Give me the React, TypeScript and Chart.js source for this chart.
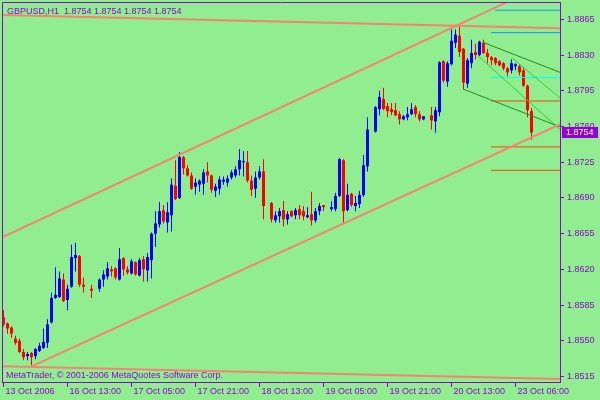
import React, { useEffect, useRef } from 'react';
import { Chart, registerables } from 'chart.js';

Chart.register(...registerables);

// ---------- text ----------
const symbolTitle = 'GBPUSD,H1  1.8754 1.8754 1.8754 1.8754';
const copyrightText = 'MetaTrader, \u00A9 2001-2006 MetaQuotes Software Corp.';

// ---------- axis ticks ----------
const xTickBars = [0, 16, 32, 48, 64, 80, 96, 112, 128];
const xTickLabels = [
  '13 Oct 2006', '16 Oct 13:00', '17 Oct 05:00', '17 Oct 21:00', '18 Oct 13:00',
  '19 Oct 05:00', '19 Oct 21:00', '20 Oct 13:00', '23 Oct 06:00',
];
const yTicks = [1.8515, 1.855, 1.8585, 1.862, 1.8655, 1.869, 1.8725, 1.876, 1.8795, 1.883, 1.8865];

// ---------- H1 candles (null = doji drawn invisibly) ----------
const opens = [
  1.8573, 1.8567, 1.8563, 1.8552, 1.855, 1.8539, 1.8535, 1.8538, 1.8535, 1.854,
  1.8543, 1.8548, 1.8568, 1.8592, 1.8593, 1.861, 1.859, 1.8603, 1.8631, 1.8633,
  1.8605, null, 1.8601, null, 1.8601, 1.861, 1.8613, 1.862, 1.8621, 1.861,
  1.8631, 1.862, 1.8616, 1.8627, 1.8614, 1.863, 1.8619, 1.8629, 1.8655, 1.8664,
  1.8678, 1.8666, 1.8673, 1.8702, 1.869, 1.873, 1.8719, 1.8712, 1.8701, 1.8703,
  1.8704, 1.8716, 1.8712, 1.8697, 1.8699, 1.8706, 1.8705, 1.871, 1.8712, 1.8718,
  1.8725, 1.8725, 1.8707, 1.8699, 1.871, 1.8716, null, 1.8685, 1.8668, 1.8672,
  1.8678, 1.8669, 1.8677, 1.8673, 1.8679, 1.8677, 1.8671, 1.8674, 1.8668, 1.8677,
  1.8683, null, 1.8679, 1.8679, 1.8692, 1.8727, 1.8678, 1.8694, 1.8682, 1.8684,
  1.8693, 1.8721, null, 1.8755, 1.8777, 1.8787, 1.878, 1.8777, 1.8776, 1.8772,
  1.8767, 1.8769, 1.8772, 1.8779, 1.8772, 1.8767, null, 1.8771, 1.8765, 1.8774,
  1.8824, 1.8804, 1.8821, 1.8842, 1.8849, 1.8836, 1.8802, 1.8822, 1.8833, 1.883,
  1.8842, 1.8832, 1.8828, 1.8827, 1.8824, 1.8822, 1.8817, 1.8815, 1.8819, 1.8819,
  1.8815, 1.88, 1.8775,
];
const highs = [
  1.858, 1.8568, 1.8564, 1.8555, 1.8552, 1.8542, 1.8539, 1.8539, 1.8543, 1.8548,
  1.8562, 1.8571, 1.8597, 1.8622, 1.8618, 1.8616, 1.8605, 1.8644, 1.8646, 1.8634,
  1.8612, null, 1.8605, null, 1.8611, 1.8619, 1.8627, 1.8623, 1.8622, 1.8641,
  1.8632, 1.8623, 1.863, 1.8628, 1.8631, 1.8633, 1.8636, 1.8656, 1.8677, 1.8686,
  1.8683, 1.8686, 1.8709, 1.8727, 1.8735, 1.8731, 1.8722, 1.8715, 1.8709, 1.8708,
  1.8718, 1.8725, 1.8713, 1.8704, 1.8711, 1.8711, 1.8712, 1.8717, 1.8721, 1.8738,
  1.8736, 1.8736, 1.8712, 1.8716, 1.8721, 1.8728, null, 1.8686, 1.8677, 1.868,
  1.8687, 1.8677, 1.8678, 1.868, 1.8683, 1.8682, 1.8681, 1.8696, 1.868, 1.8685,
  1.8683, null, 1.8687, 1.8695, 1.8729, 1.8728, 1.8704, 1.8695, 1.8692, 1.8697,
  1.8732, 1.8769, null, 1.878, 1.8795, 1.8798, 1.8783, 1.8783, 1.8783, 1.8775,
  1.8771, 1.8779, 1.8783, 1.8781, 1.8775, 1.877, null, 1.8779, 1.8779, 1.8824,
  1.8825, 1.8824, 1.8855, 1.8855, 1.8859, 1.8837, 1.8827, 1.8845, 1.8841, 1.8844,
  1.8845, 1.8836, 1.8829, 1.8828, 1.8825, 1.8823, 1.8818, 1.8826, 1.8822, 1.8821,
  1.8817, 1.8801, 1.8778,
];
const lows = [
  1.8564, 1.8557, 1.8553, 1.8546, 1.8538, 1.8531, 1.8531, 1.8526, 1.8532, 1.8539,
  1.8542, 1.8543, 1.8567, 1.8591, 1.8592, 1.8588, 1.858, 1.8602, 1.8618, 1.8603,
  1.8597, null, 1.8592, null, 1.8598, 1.8603, 1.861, 1.8613, 1.861, 1.8609,
  1.8614, 1.8615, 1.8615, 1.8614, 1.8613, 1.8608, 1.8608, 1.8611, 1.8642, 1.8661,
  1.8665, 1.8656, 1.8657, 1.8688, 1.8689, 1.8713, 1.8711, 1.8698, 1.8693, 1.8696,
  1.8693, 1.8705, 1.8695, 1.8691, 1.8693, 1.8703, 1.8701, 1.8708, 1.871, 1.8712,
  1.8711, 1.8705, 1.8692, 1.869, 1.8708, 1.8669, null, 1.8666, 1.8666, 1.8666,
  1.8662, 1.8664, 1.8671, 1.8669, 1.8669, 1.8668, 1.867, 1.8663, 1.8666, 1.8673,
  1.8677, null, 1.8677, 1.8677, 1.8691, 1.8666, 1.8677, 1.8681, 1.8677, 1.868,
  1.8691, 1.8716, null, 1.8754, 1.8771, 1.8776, 1.8769, 1.8771, 1.877, 1.8762,
  1.8766, 1.8766, 1.8771, 1.8769, 1.8765, 1.8766, null, 1.8757, 1.8754, 1.877,
  1.8803, 1.8799, 1.882, 1.8837, 1.8828, 1.8796, 1.8798, 1.8817, 1.8826, 1.8829,
  1.8831, 1.8822, 1.882, 1.882, 1.8819, 1.8815, 1.8809, 1.8812, 1.8815, 1.881,
  1.8799, 1.8769, 1.8747,
];
const closes = [
  1.8566, 1.8562, 1.8557, 1.8548, 1.8539, 1.8534, 1.8537, 1.8534, 1.8542, 1.8545,
  1.8549, 1.8566, 1.8592, 1.8595, 1.8611, 1.8589, 1.8601, 1.8632, 1.8634, 1.8605,
  1.8603, null, 1.8599, null, 1.861, 1.8615, 1.8621, 1.8618, 1.8612, 1.863,
  1.862, 1.8617, 1.8628, 1.8615, 1.8629, 1.862, 1.8632, 1.8655, 1.8665, 1.8677,
  1.8667, 1.8676, 1.8703, 1.8689, 1.873, 1.8719, 1.8712, 1.8699, 1.8705, 1.8707,
  1.8715, 1.8712, 1.8698, 1.8701, 1.8708, 1.8708, 1.8709, 1.8715, 1.8718, 1.8727,
  1.8726, 1.8707, 1.8698, 1.871, 1.8716, 1.8682, null, 1.8669, 1.8673, 1.8677,
  1.8669, 1.8674, 1.8672, 1.8678, 1.8673, 1.8672, 1.8673, 1.8668, 1.8677, 1.8682,
  1.8681, null, 1.8681, 1.8692, 1.8728, 1.8677, 1.8693, 1.8683, 1.8685, 1.8693,
  1.8722, 1.8757, null, 1.8779, 1.8789, 1.8777, 1.8775, 1.8774, 1.8771, 1.8767,
  1.877, 1.8772, 1.8777, 1.8772, 1.8767, 1.877, null, 1.8766, 1.8776, 1.8823,
  1.8805, 1.8822, 1.8844, 1.885, 1.8833, 1.8803, 1.8825, 1.8832, 1.883, 1.8843,
  1.8832, 1.8828, 1.8825, 1.8822, 1.882, 1.8817, 1.8813, 1.8822, 1.8821, 1.8813,
  1.88, 1.8776, 1.8754,
];

// ---------- drawn objects: endpoints as (bar index, price) ----------
const upperChannel = [{ x: -1, y: 1.86502 }, { x: 140, y: 1.89077 }];
const lowerChannel = [{ x: 7, y: 1.8525 }, { x: 140, y: 1.87637 }];
const topLine = [{ x: -1, y: 1.88693 }, { x: 140, y: 1.88563 }];
const bottomLine = [{ x: -1, y: 1.8525 }, { x: 140, y: 1.85125 }];
const regUpper = [{ x: 119.85, y: 1.88425 }, { x: 140, y: 1.88117 }];
const regLower = [{ x: 115, y: 1.87965 }, { x: 140, y: 1.87583 }];
const fanA = [{ x: 118.7, y: 1.8829 }, { x: 140, y: 1.87538 }];
const fanB = [{ x: 127.2, y: 1.8827 }, { x: 140, y: 1.87851 }];
const levelPrices = [1.8874, 1.8852, 1.8808, 1.8785, 1.874, 1.8717];
const levelStarts = [122.9, 121.9, 121.9, 121.9, 121.9, 121.9];
const levelEnd = 140;

// ---------- styles ----------
const BG = '#90EE90';
const FG = '#9400D3';
const BULL = '#0000FF';
const BEAR = '#FF0000';
const SALMON = '#FA8072';
const DARKGREEN = '#228B22';
const LIMEGREEN = '#32CD32';
const levelColors = ['#1E90FF', '#1E90FF', '#00FFFF', '#FF4500', '#FF4500', '#FF4500'];
const FONT_FAMILY = "'Liberation Sans', Arial, sans-serif";
const FONT = `9px ${FONT_FAMILY}`;

export default function App() {
  const ref = useRef<HTMLCanvasElement | null>(null);

  useEffect(() => {
    document.body.style.margin = '0';
    const canvas = ref.current;
    if (!canvas) return;

    const idx = opens.map((_, i) => i).filter((i) => opens[i] !== null);
    const wickData = idx.map((i) => ({ x: i, y: [lows[i] as number, highs[i] as number] }));
    const bodyData = idx.map((i) => ({
      x: i,
      y: [Math.min(opens[i] as number, closes[i] as number), Math.max(opens[i] as number, closes[i] as number)],
    }));
    const colors = idx.map((i) => ((closes[i] as number) > (opens[i] as number) ? BULL : BEAR));
    const lastClose = closes[closes.length - 1] as number;

    const lineDs = (data: any[], color: string, width: number) => ({
      type: 'line' as const,
      data,
      borderColor: color,
      borderWidth: width,
      pointRadius: 0,
      fill: false,
      tension: 0,
      clip: 0,
      order: -1,
    });

    const levelDatasets = levelPrices.map((p, i) =>
      lineDs([{ x: levelStarts[i], y: p }, { x: levelEnd, y: p }], levelColors[i], 1)
    );

    const mtPlugin = {
      id: 'mtDecor',
      beforeDraw(chart: any) {
        const ctx = chart.ctx;
        ctx.save();
        ctx.fillStyle = BG;
        ctx.fillRect(0, 0, chart.width, chart.height);
        ctx.restore();
      },
      afterDraw(chart: any) {
        const ctx = chart.ctx;
        const a = chart.chartArea;
        ctx.save();
        ctx.strokeStyle = FG;
        ctx.lineWidth = 1;
        ctx.beginPath();
        ctx.moveTo(a.left + 0.5, a.bottom);
        ctx.lineTo(a.left + 0.5, a.top + 0.5);
        ctx.lineTo(a.right, a.top + 0.5);
        ctx.stroke();

        ctx.font = FONT;
        ctx.fillStyle = FG;
        ctx.textAlign = 'left';
        ctx.textBaseline = 'alphabetic';
        ctx.fillText(symbolTitle, a.left + 5, a.top + 12);
        ctx.fillText(copyrightText, a.left + 4, a.bottom - 4);

        const y = Math.round(chart.scales.y.getPixelForValue(lastClose));
        ctx.fillStyle = FG;
        ctx.fillRect(a.right + 2, y - 6, 36, 11);
        ctx.fillStyle = '#FFFFFF';
        ctx.textBaseline = 'middle';
        ctx.fillText(lastClose.toFixed(4), a.right + 6, y);
        ctx.restore();
      },
    };

    const chart = new Chart(canvas, {
      type: 'bar',
      data: {
        datasets: [
          lineDs(upperChannel, SALMON, 2),
          lineDs(lowerChannel, SALMON, 2),
          lineDs(topLine, SALMON, 2),
          lineDs(bottomLine, SALMON, 2),
          lineDs(regUpper, DARKGREEN, 1),
          lineDs(regLower, DARKGREEN, 1),
          lineDs(fanA, LIMEGREEN, 1),
          lineDs(fanB, LIMEGREEN, 1),
          ...levelDatasets,
          {
            type: 'bar',
            data: bodyData,
            backgroundColor: colors,
            barThickness: 3,
            grouped: false,
            inflateAmount: 0,
            borderWidth: 0,
            minBarLength: 1,
            order: 1,
          },
          {
            type: 'bar',
            data: wickData,
            backgroundColor: colors,
            barThickness: 1,
            grouped: false,
            inflateAmount: 0,
            borderWidth: 0,
            order: 2,
          },
        ] as any,
      },
      options: {
        responsive: false,
        maintainAspectRatio: false,
        animation: false,
        events: [],
        layout: { padding: { left: 2, top: 2, right: 0, bottom: 0 } },
        plugins: { legend: { display: false }, tooltip: { enabled: false } },
        scales: {
          x: {
            type: 'linear',
            position: 'bottom',
            min: -0.375,
            max: 139.125,
            offset: false,
            afterBuildTicks: (s: any) => {
              s.ticks = xTickBars.map((v) => ({ value: v }));
            },
            afterFit: (s: any) => {
              s.height = 18;
              s.paddingLeft = 0;
              s.paddingRight = 0;
            },
            ticks: {
              autoSkip: false,
              maxRotation: 0,
              minRotation: 0,
              align: 'start',
              labelOffset: 2,
              padding: -1,
              color: FG,
              font: { family: FONT_FAMILY, size: 9 },
              callback: (v: any) => {
                const i = xTickBars.indexOf(Number(v));
                return i >= 0 ? xTickLabels[i] : '';
              },
            },
            grid: { display: true, drawOnChartArea: false, drawTicks: true, tickLength: 5, color: FG, offset: false },
            border: { display: true, color: FG, width: 1 },
          },
          y: {
            type: 'linear',
            position: 'right',
            min: 1.85096,
            max: 1.8882,
            afterBuildTicks: (s: any) => {
              s.ticks = yTicks.map((v) => ({ value: v }));
            },
            afterFit: (s: any) => {
              s.width = 40;
              s.paddingTop = 0;
              s.paddingBottom = 0;
            },
            ticks: {
              padding: 3,
              color: FG,
              font: { family: FONT_FAMILY, size: 9 },
              callback: (v: any) => Number(v).toFixed(4),
            },
            grid: { display: true, drawOnChartArea: false, drawTicks: true, tickLength: 4, color: FG },
            border: { display: true, color: FG, width: 1 },
          },
        },
      } as any,
      plugins: [mtPlugin],
    });

    return () => chart.destroy();
  }, []);

  return (
    <div style={{ width: 600, height: 400 }}>
      <canvas ref={ref} width={600} height={400} style={{ display: 'block' }} />
    </div>
  );
}
